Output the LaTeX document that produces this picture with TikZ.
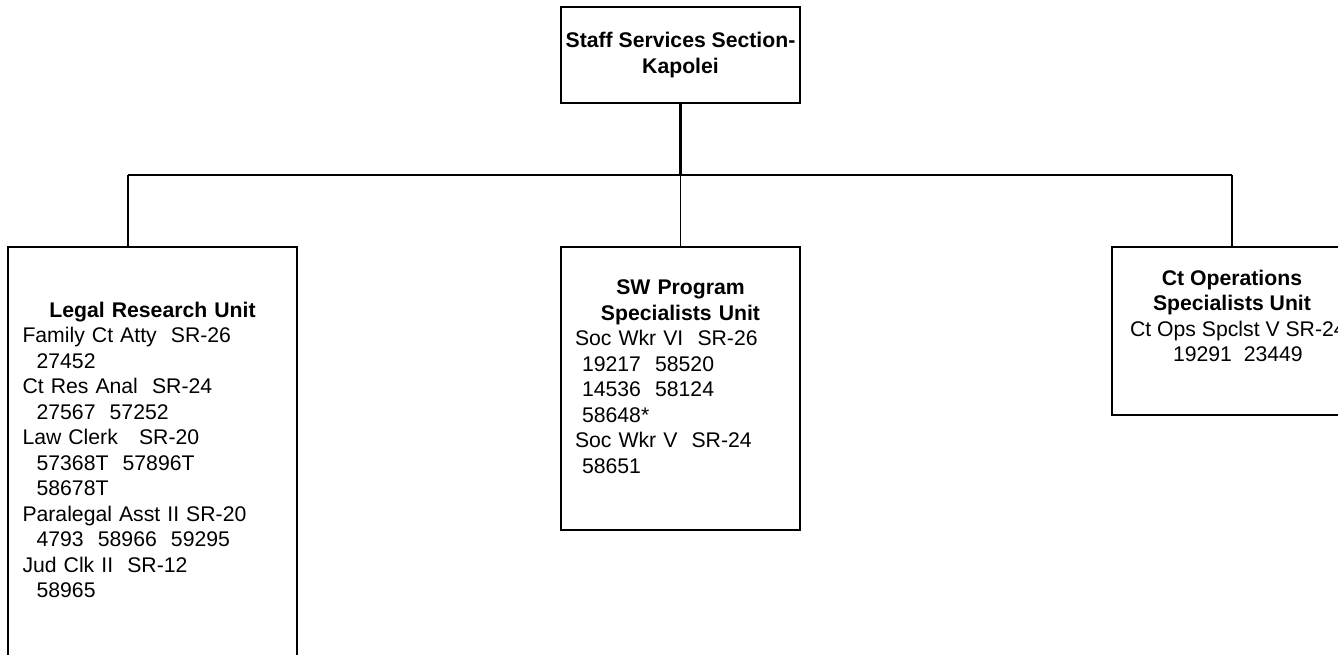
\documentclass[tikz,border=0pt]{standalone}
\usepackage{fontspec}
\setmainfont{Liberation Sans}
\usepackage{tikz}
\usetikzlibrary{positioning,calc}

\newcommand{\unittitle}[1]{\hspace*{\fill}\textbf{#1}\hspace*{\fill}\null}

\begin{document}
\begin{tikzpicture}[
        x=1pt, y=-1pt,
        block/.style={draw, line width=1.5pt, inner sep=0pt},
        label/.style={inner sep=0pt, font=\fontsize{21.2}{25.5}\selectfont},
        line/.style={line width=1.5pt},
        heavyline/.style={line width=2.2pt}
    ]
        \useasboundingbox (0,0) rectangle (1338,654);
        \clip (0,0) rectangle (1338,654);
        \node[block, minimum width=239pt, minimum height=96pt, align=center, font=\fontsize{21.2}{25.5}\selectfont\bfseries] (staff) at (680.5,55) {Staff Services Section-\\Kapolei};
        \node[block, minimum width=289pt, minimum height=433pt] (legal) at (152.5,463.5) {};
        \node[block, minimum width=239pt, minimum height=283pt] (swprog) at (680.5,388.5) {};
        \node[block, minimum width=240pt, minimum height=168pt] (ctops) at (1232,331) {};
        \node[label, text width=260pt, align=left, anchor=north] (legaltext) at (152.5,301.8) {%
            \unittitle{Legal Research Unit}\\
            Family Ct Atty~~SR-26\\
            ~~27452\\
            Ct Res Anal~~SR-24\\
            ~~27567~~57252\\
            Law Clerk~~~SR-20\\
            ~~57368T~~57896T\\
            ~~58678T\\
            Paralegal Asst II SR-20\\
            ~~4793~~58966~~59295\\
            Jud Clk II~~SR-12\\
            ~~58965};
        \node[label, text width=211pt, align=left, anchor=north] (swprogtext) at (680.5,279.5) {%
            \unittitle{SW Program}\\
            \unittitle{Specialists Unit}\\
            Soc Wkr VI~~SR-26\\
            ~19217~~58520\\
            ~14536~~58124\\
            ~58648*\\
            Soc Wkr V~~SR-24\\
            ~58651};
        \node[label, align=center, anchor=north] (ctopstext) at (1232,269.5) {%
            \textbf{Ct Operations}\\
            \textbf{Specialists Unit}\\
            ~~Ct Ops Spclst V SR-24\\
            ~~19291~~23449};
        \coordinate (busL) at (128,175);
        \coordinate (busR) at (1232,175);
        \draw[heavyline] (staff.south) -- (staff.south |- busL);
        \draw[line] (busL) -- (busR);
        \draw[line] (busL) -- (busL |- legal.north);
        \draw[line] (staff.south |- busL) -- (swprog.north);
        \draw[line] (busR) -- (ctops.north);
    \end{tikzpicture}
\end{document}
